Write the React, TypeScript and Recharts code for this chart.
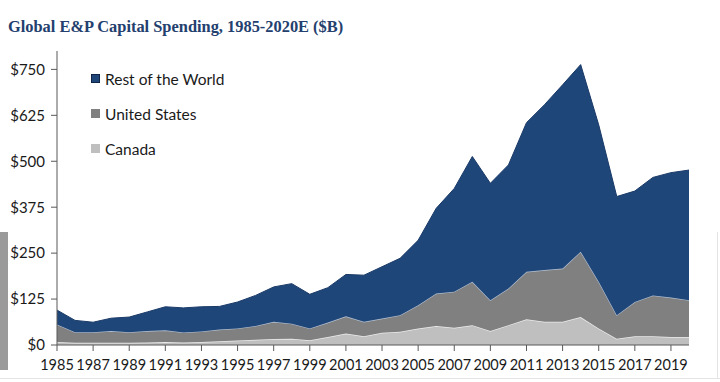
// Global E&P capital spending — stacked area (Recharts)

import { AreaChart, Area, XAxis, YAxis } from 'recharts';

const YEARS = [
  '1985', '1986', '1987', '1988', '1989', '1990', '1991', '1992', '1993', '1994',
  '1995', '1996', '1997', '1998', '1999', '2000', '2001', '2002', '2003', '2004',
  '2005', '2006', '2007', '2008', '2009', '2010', '2011', '2012', '2013', '2014',
  '2015', '2016', '2017', '2018', '2019', '2020',
];

// $B per year
const CANADA = [
  8, 6, 6, 6, 6, 7, 8, 7, 8, 10, 12, 14, 16, 17, 13, 22, 31, 24, 33, 36,
  45, 52, 47, 54, 38, 54, 70, 63, 63, 76, 45, 17, 24, 24, 22, 22,
];
const UNITED_STATES = [
  48, 29, 29, 32, 29, 31, 32, 27, 29, 32, 33, 38, 47, 41, 32, 39, 47, 39, 39, 45,
  63, 88, 98, 118, 84, 100, 129, 141, 145, 178, 127, 64, 93, 111, 107, 100,
];
const REST_OF_WORLD = [
  39, 32, 27, 35, 41, 52, 64, 67, 67, 63, 72, 83, 95, 109, 93, 95, 114, 127, 141, 155,
  177, 232, 281, 341, 318, 336, 406, 450, 500, 509, 427, 323, 302, 321, 340, 354,
];

const Y_TICKS = [0, 125, 250, 375, 500, 625, 750];

// bottom to top of the stack
const SERIES = [
  { key: 'canada', name: 'Canada', fill: '#bfbfbf', stroke: '#ececec', width: 1.5 },
  { key: 'us', name: 'United States', fill: '#808080', stroke: '#b3c0d3', width: 1.2 },
  { key: 'row', name: 'Rest of the World', fill: '#1f4679', stroke: '#1a3a68', width: 1 },
];

const FONT = 'Lato, "Liberation Sans", sans-serif';

const data = YEARS.map((year, i) => ({
  year,
  canada: CANADA[i],
  us: UNITED_STATES[i],
  row: REST_OF_WORLD[i],
}));

export default function App() {
  return (
    <div style={{ position: 'absolute', left: 0, top: 0, width: 720, height: 382, background: '#fff', overflow: 'hidden' }}>
      <div
        style={{
          position: 'absolute',
          left: 8,
          top: 17,
          fontFamily: '"Liberation Serif", serif',
          fontWeight: 'bold',
          fontSize: 16.4,
          color: '#23406e',
          whiteSpace: 'nowrap',
        }}
      >
        Global E&amp;P Capital Spending, 1985-2020E ($B)
      </div>

      {/* screenshot edges */}
      <div style={{ position: 'absolute', left: 0, top: 232, width: 8, height: 138, background: '#9a9a9a' }} />
      <div style={{ position: 'absolute', left: 0, top: 378, width: 720, height: 1, background: '#e4e4e4' }} />
      <div style={{ position: 'absolute', left: 717, top: 232, width: 1, height: 146, background: '#e4e4e4' }} />

      <div style={{ position: 'absolute', left: 0, top: 0 }}>
        <AreaChart width={720} height={382} data={data} margin={{ top: 51, right: 31, bottom: 7, left: 0 }}>
          <XAxis
            dataKey="year"
            interval={1}
            height={30}
            tickSize={6}
            tickMargin={9}
            tick={{ fontSize: 14.5, fontFamily: FONT, fill: '#1a1a1a' }}
            axisLine={{ stroke: '#595959' }}
            tickLine={{ stroke: '#595959' }}
          />
          <YAxis
            width={57}
            domain={[0, 800]}
            ticks={Y_TICKS}
            tickFormatter={(v: number) => `$${v}`}
            tickSize={6}
            tickMargin={6}
            tick={{ fontSize: 15, fontFamily: FONT, fill: '#1a1a1a' }}
            axisLine={{ stroke: '#595959' }}
            tickLine={{ stroke: '#595959' }}
          />
          {SERIES.map((s) => (
            <Area
              key={s.key}
              type="linear"
              dataKey={s.key}
              name={s.name}
              stackId="a"
              stroke={s.stroke}
              strokeWidth={s.width}
              fill={s.fill}
              fillOpacity={1}
              isAnimationActive={false}
            />
          ))}
        </AreaChart>
      </div>

      {/* legend, top layer first */}
      <div style={{ position: 'absolute', left: 91, top: 61, fontFamily: FONT, fontSize: 15.5, color: '#1a1a1a' }}>
        {[...SERIES].reverse().map((s) => (
          <div key={s.key} style={{ display: 'flex', alignItems: 'center', height: 35 }}>
            <span
              style={{
                display: 'inline-block',
                width: 9,
                height: 9,
                background: s.fill,
                boxShadow: s.key === 'row' ? 'inset 0 0 0 1px #0f2447' : 'none',
                marginRight: 5,
              }}
            />
            <span>{s.name}</span>
          </div>
        ))}
      </div>
    </div>
  );
}
